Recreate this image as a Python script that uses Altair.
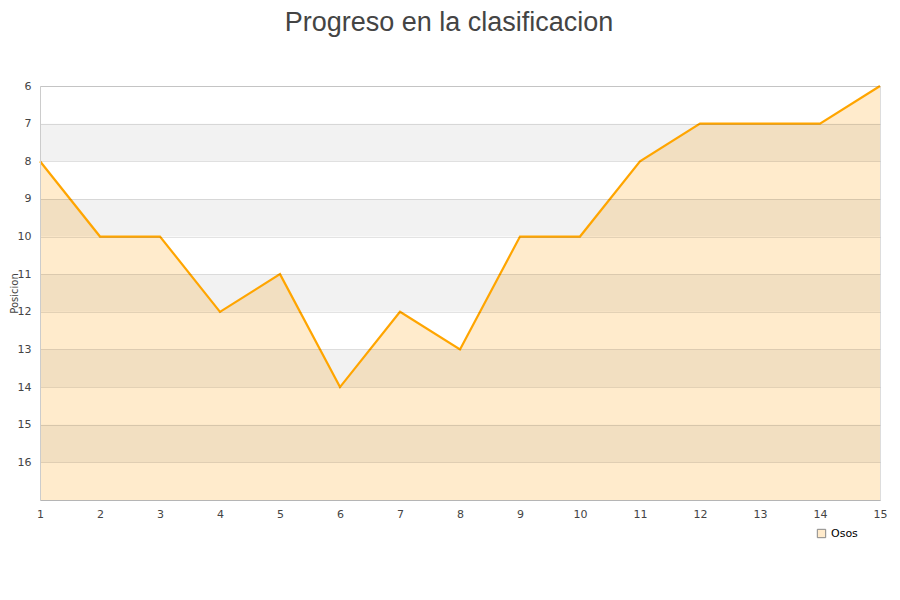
import altair as alt
import pandas as pd

titulo = "Progreso en la clasificacion"
equipo = "Osos"
jornadas = list(range(1, 16))
posiciones = [8, 10, 10, 12, 11, 14, 12, 13, 10, 10, 8, 7, 7, 7, 6]
etiquetas_y = list(range(6, 17))
bandas_inicio = [7, 9, 11, 13, 15]
fondo = 17

df = pd.DataFrame({"jornada": jornadas, "posicion": posiciones,
                   "equipo": [equipo] * len(jornadas), "base": [fondo] * len(jornadas)})
bands = pd.DataFrame({"y1": bandas_inicio, "y2": [b + 1 for b in bandas_inicio]})

yscale = alt.Scale(domain=[6, fondo], reverse=True, nice=False, zero=False)
xscale = alt.Scale(domain=[1, 15], nice=False, zero=False)

xaxis = alt.Axis(values=jornadas, format="d", title=None, grid=False, tickSize=0,
                 labelPadding=8, labelFontSize=11, labelColor="#444", labelFont="DejaVu Sans",
                 labelFlush=False, labelOverlap=False, domainColor="#ccc")
yaxis = alt.Axis(values=list(range(6, fondo + 1)), format="d", title="Posicion", tickSize=0,
                 labelPadding=9, labelFontSize=11, labelColor="#444", labelFont="DejaVu Sans",
                 labelFlush=False, labelOverlap=False,
                 labelExpr="datum.value == 17 ? '' : datum.label",
                 gridColor="#000", gridOpacity=0.11, zindex=1, domainColor="#ccc",
                 titleFontSize=10, titleFont="DejaVu Sans", titleColor="#444", titleFontWeight="normal",
                 titleX=-26, titleY=207, titleAngle=270, titleAlign="center", titleBaseline="middle")

area = alt.Chart(df).mark_area(opacity=1).encode(
    x=alt.X("jornada:Q", scale=xscale, axis=xaxis),
    y=alt.Y("posicion:Q", scale=yscale, axis=yaxis),
    y2="base:Q",
    fill=alt.Fill("equipo:N", scale=alt.Scale(range=["#FFEBCC"]),
                  legend=alt.Legend(title=None, orient="none", legendX=776, legendY=442,
                                    symbolType="square", symbolSize=70,
                                    symbolStrokeColor="#888", symbolStrokeWidth=1,
                                    labelFontSize=11, labelColor="#000",
                                    labelFont="DejaVu Sans")))

band_layer = alt.Chart(bands).mark_rect(color="#000", opacity=0.05).encode(
    x=alt.value(0), x2=alt.value(840),
    y=alt.Y("y1:Q", scale=yscale, axis=yaxis), y2="y2:Q")

line = alt.Chart(df).mark_line(color="#FFA500", strokeWidth=2.2).encode(
    x=alt.X("jornada:Q", scale=xscale, axis=xaxis),
    y=alt.Y("posicion:Q", scale=yscale, axis=yaxis))

chart = alt.layer(area, band_layer, line).properties(
    width=840, height=414,
    title=alt.TitleParams(titulo, fontSize=27, font="Liberation Sans", color="#444",
                          fontWeight="normal", anchor="middle", dx=-11,
                          baseline="alphabetic", offset=22),
    autosize=alt.AutoSizeParams(type="none"),
    padding={"left": 32, "top": 78, "right": 12, "bottom": 92},
).configure_view(stroke="#ddd")

chart.save("out.html", embed_options={"renderer": "svg", "actions": False})
